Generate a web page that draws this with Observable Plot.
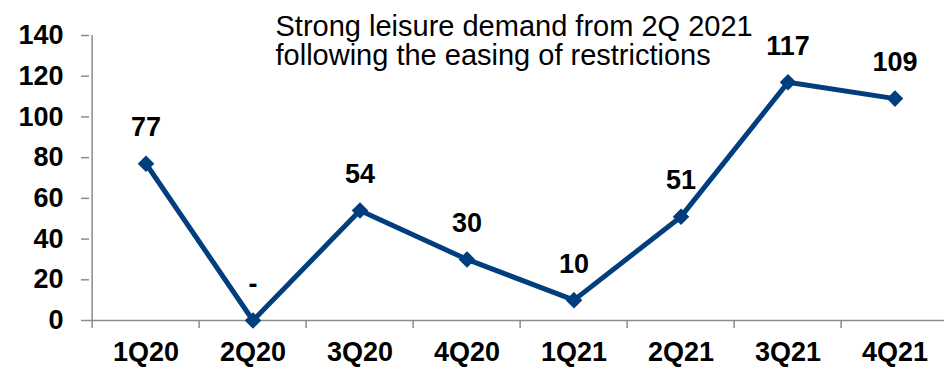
<!DOCTYPE html>
<html>
<head>
<meta charset="utf-8">
<script src="https://cdn.jsdelivr.net/npm/d3@7"></script>
<script src="https://cdn.jsdelivr.net/npm/@observablehq/plot@0.6"></script>
<style>
  html, body { margin: 0; padding: 0; background: #fff; overflow: hidden; }
  #chart svg { overflow: hidden; }
</style>
</head>
<body>
<div id="chart"></div>
<script>
const quarters = ["1Q20", "2Q20", "3Q20", "4Q20", "1Q21", "2Q21", "3Q21", "4Q21"];
const values = [77, 0, 54, 30, 10, 51, 117, 109];
const valueLabels = ["77", "-", "54", "30", "10", "51", "117", "109"];
const yTicks = [0, 20, 40, 60, 80, 100, 120, 140];
const annotation = ["Strong leisure demand from 2Q 2021", "following the easing of restrictions"];

const data = quarters.map((q, i) => ({q, v: values[i], label: valueLabels[i]}));

const W = 944, H = 367;
const mL = 89, mR = -7;
const bw = (W - mL - mR) / quarters.length;
const navy = "#003E7E";
const grey = "#8C8C8C";

const chart = Plot.plot({
  width: W,
  height: H,
  marginLeft: mL,
  marginRight: mR,
  marginTop: 35,
  marginBottom: 47,
  style: {fontFamily: "'Liberation Sans', Arial, sans-serif", background: "#fff", overflow: "hidden"},
  x: {type: "band", domain: quarters, padding: 0, label: null},
  y: {domain: [0, 140], label: null},
  marks: [
    // axis lines
    Plot.ruleY([0], {stroke: grey, strokeWidth: 1.5}),
    Plot.ruleX([quarters[0]], {dx: -bw / 2, y1: 0, y2: 140, stroke: grey, strokeWidth: 1.5}),
    // y ticks
    Plot.axisY({ticks: yTicks, tickSize: 8, tickFormat: () => "", stroke: grey, strokeWidth: 1.5, label: null}),
    Plot.axisY({ticks: yTicks, tickSize: 0, tickPadding: 26, fontSize: 27, fontWeight: "bold", color: "#000", label: null}),
    // x ticks at band boundaries
    Plot.axisX({tickSize: 8, tickFormat: () => "", dx: -bw / 2, stroke: grey, strokeWidth: 1.5, label: null}),
    Plot.axisX({tickSize: 0, tickPadding: 21, fontSize: 27, fontWeight: "bold", color: "#000", label: null}),
    // series
    Plot.line(data, {x: "q", y: "v", stroke: navy, strokeWidth: 5}),
    Plot.dot(data, {x: "q", y: "v", symbol: "diamond2", r: 6.5, fill: navy, stroke: navy}),
    Plot.text(data, {x: "q", y: "v", text: "label", dy: -36, fontSize: 27, fontWeight: "bold", fill: "#000"}),
    // annotation
    Plot.text([annotation.join("\n")], {frameAnchor: "top-left", lineAnchor: "top", textAnchor: "start", dx: 186, dy: -20, fontSize: 29, lineHeight: 1.0, fill: "#000"})
  ]
});
document.getElementById("chart").appendChild(chart);
</script>
</body>
</html>
